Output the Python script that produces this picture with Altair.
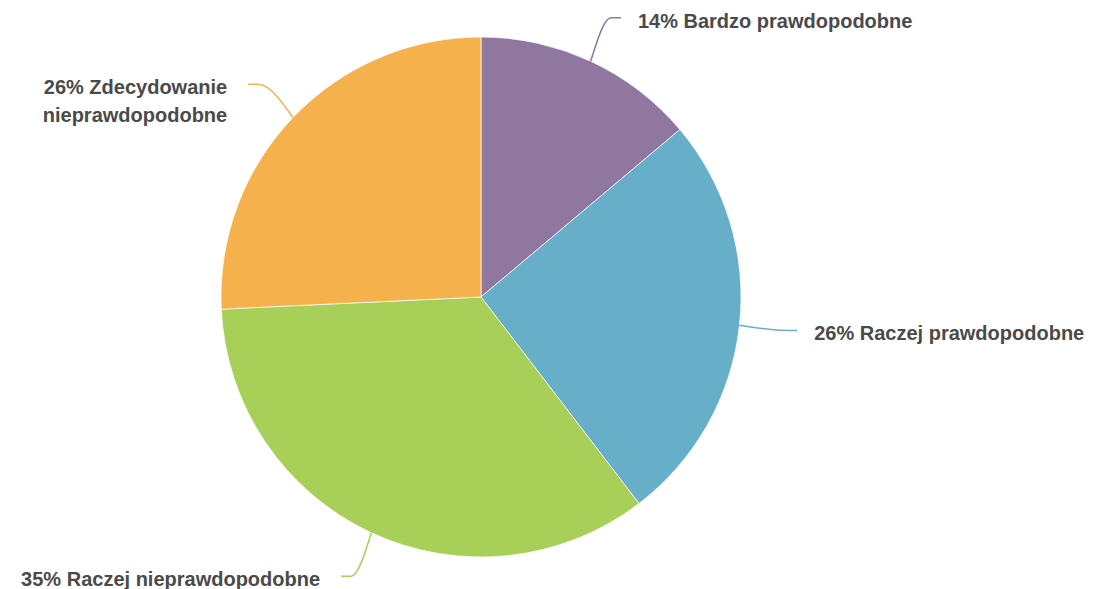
import math
import altair as alt
import pandas as pd

categories = ["Bardzo prawdopodobne", "Raczej prawdopodobne",
              "Raczej nieprawdopodobne", "Zdecydowanie nieprawdopodobne"]
values = [14, 26, 35, 26]
label_texts = ["14% Bardzo prawdopodobne", "26% Raczej prawdopodobne",
               "35% Raczej nieprawdopodobne", "26% Zdecydowanie\nnieprawdopodobne"]
colors = ["#8f779f", "#67afc8", "#a8cf58", "#f5b24c"]

W, H = 1077, 581
CX, CY = 473, 289          # pie centre inside the view (pixels)
R = 260                    # pie radius
R_ELBOW = 308
HOOK = 10
GAP_RIGHT = 17
GAP_LEFT = 21
LINE_H = 28

total = sum(values)
slices, lines, labels = [], [], []
cum = 0
for i, (c, v, t) in enumerate(zip(categories, values, label_texts)):
    mid = (cum + v / 2) / total * 2 * math.pi
    cum += v
    sx, sy = math.sin(mid), -math.cos(mid)
    side = 1 if sx >= 0 else -1
    p0 = (R * sx, R * sy)
    p1 = (R_ELBOW * sx, R_ELBOW * sy)
    p2 = (p1[0] + HOOK * side, p1[1])
    slices.append({"cat": c, "value": v, "idx": i})
    for k, p in enumerate([p0, p1, p2]):
        lines.append({"cat": c, "pt": k, "x": p[0], "y": p[1]})
    gap = GAP_RIGHT if side > 0 else GAP_LEFT
    labels.append({"cat": c, "text": t, "side": side,
                   "x": p2[0] + gap * side,
                   "y": p2[1] + 4})

slice_df = pd.DataFrame(slices)
line_df = pd.DataFrame(lines)
label_df = pd.DataFrame(labels)

xs = alt.Scale(domain=[-CX, W - CX], nice=False, zero=False)
ys = alt.Scale(domain=[-CY, H - CY], nice=False, zero=False, reverse=True)
cs = alt.Scale(domain=categories, range=colors)

pie = alt.Chart(slice_df).mark_arc(outerRadius=R, stroke="white", strokeWidth=0.7).encode(
    theta=alt.Theta("value:Q", stack=True),
    order=alt.Order("idx:Q"),
    color=alt.Color("cat:N", scale=cs, legend=None),
    x=alt.datum(0, type="quantitative", scale=xs, axis=None),
    y=alt.datum(0, type="quantitative", scale=ys, axis=None),
)

leaders = alt.Chart(line_df).mark_line(strokeWidth=1.5, interpolate="monotone").encode(
    x=alt.X("x:Q", scale=xs, axis=None),
    y=alt.Y("y:Q", scale=ys, axis=None),
    detail="cat:N",
    order=alt.Order("pt:Q"),
    color=alt.Color("cat:N", scale=cs, legend=None),
)

text_style = dict(font="Liberation Sans", fontWeight="bold", fontSize=20,
                  color="#4a4a4a", baseline="middle", lineBreak="\n", lineHeight=LINE_H)

right_labels = alt.Chart(label_df).transform_filter("datum.side > 0").mark_text(
    align="left", **text_style).encode(
    x=alt.X("x:Q", scale=xs, axis=None),
    y=alt.Y("y:Q", scale=ys, axis=None),
    text="text:N",
)
left_labels = alt.Chart(label_df).transform_filter("datum.side < 0").mark_text(
    align="right", **text_style).encode(
    x=alt.X("x:Q", scale=xs, axis=None),
    y=alt.Y("y:Q", scale=ys, axis=None),
    text="text:N",
)

chart = alt.layer(pie, leaders, right_labels, left_labels).properties(
    width=W, height=H, padding=0,
    autosize=alt.AutoSizeParams(type="none"),
).configure_view(stroke=None)

chart.save("out.html", embed_options={"renderer": "svg", "actions": False})
